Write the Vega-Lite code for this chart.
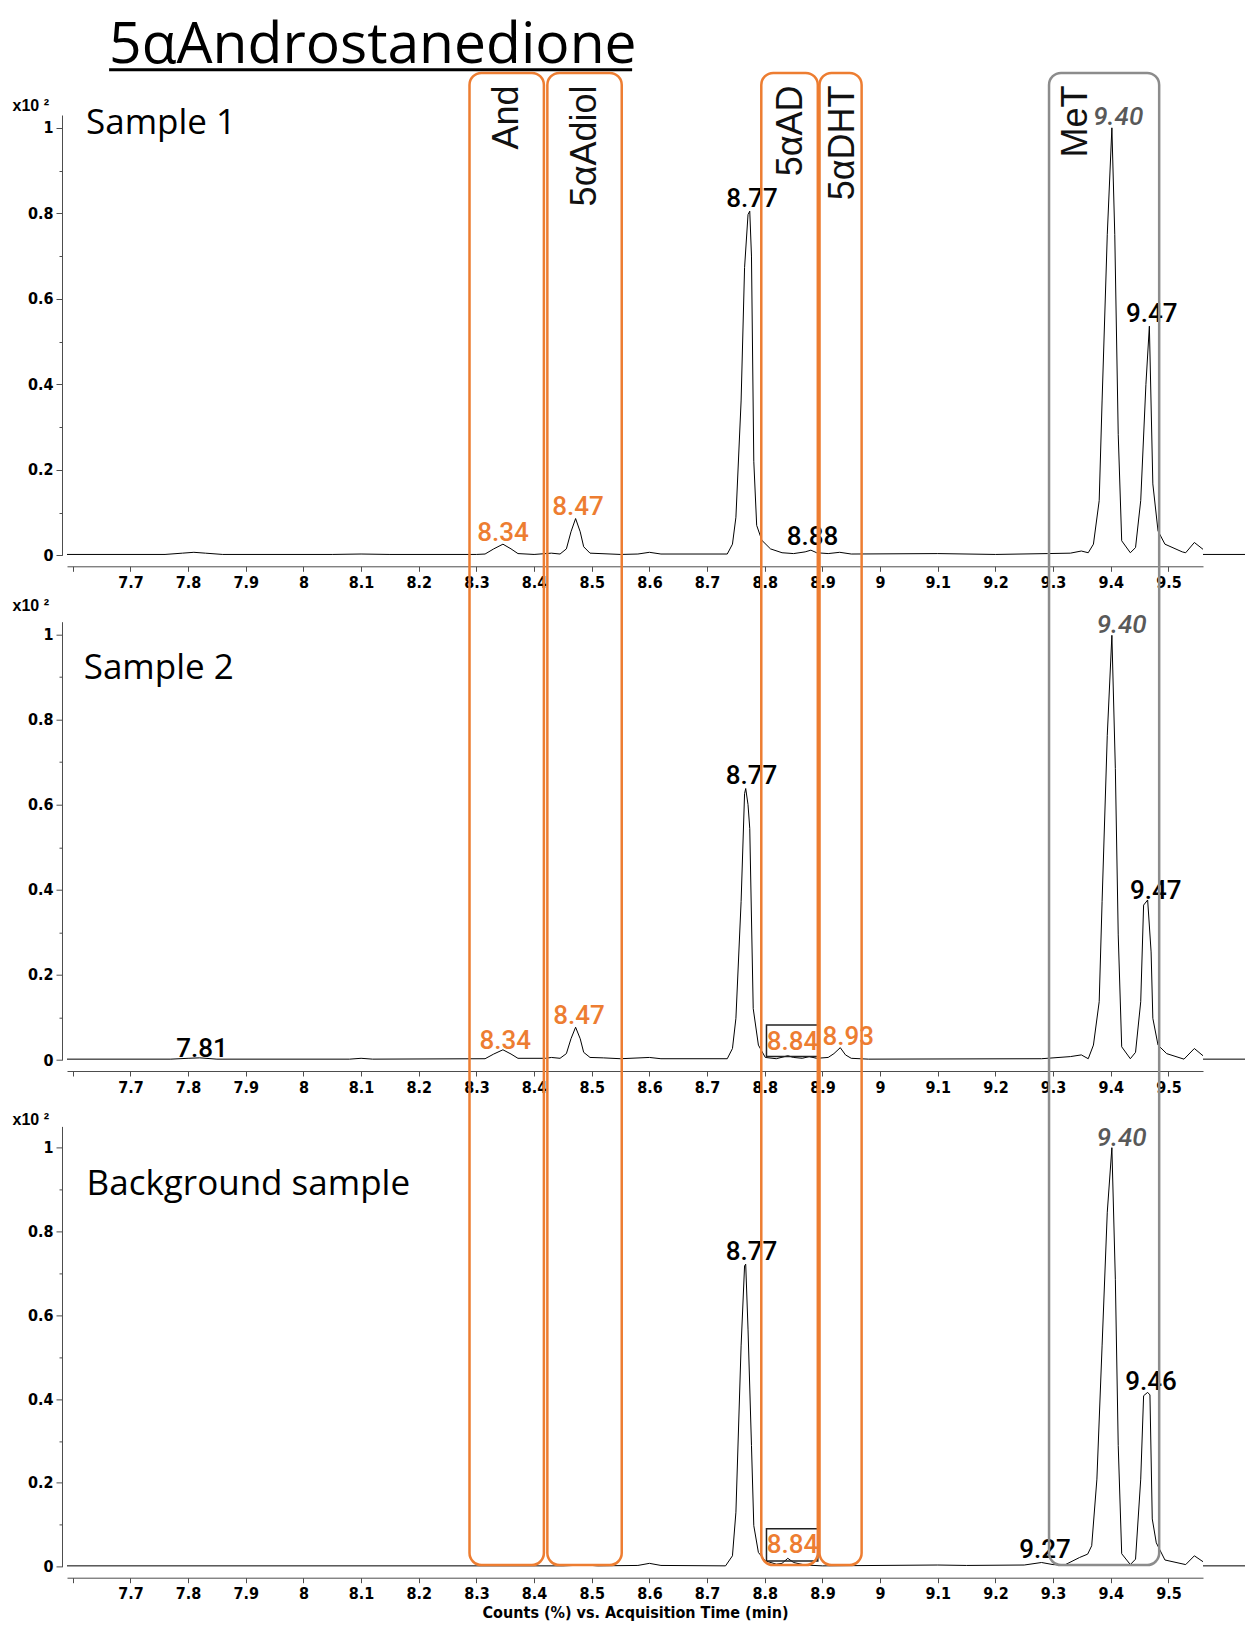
{
 "$schema": "https://vega.github.io/schema/vega-lite/v6.json",
 "padding": {"left": 12, "top": 17, "right": 0, "bottom": 0},
 "bounds": "flush",
 "spacing": 65.7,
 "config": {
  "view": {"stroke": null},
  "axis": {"grid": false, "labelFont": "Liberation Sans Narrow, Arial Narrow, DejaVu Sans Condensed, Liberation Sans", "labelFontWeight": "bold", "labelFontSize": 16, "labelColor": "#000", "domainColor": "#4d4d4d", "tickColor": "#4d4d4d", "titleFont": "Liberation Sans Narrow, Arial Narrow, DejaVu Sans Condensed, Liberation Sans", "titleFontWeight": "bold", "titleFontSize": 16, "titleColor": "#000"},
  "text": {"font": "Liberation Sans"}
 },
 "datasets": {
  "trace": [
   {"p":1,"t":7.59,"v":0.002},{"p":1,"t":7.76,"v":0.002},{"p":1,"t":7.79,"v":0.005},{"p":1,"t":7.81,"v":0.007},{"p":1,"t":7.83,"v":0.005},{"p":1,"t":7.86,"v":0.002},{"p":1,"t":8.05,"v":0.002},{"p":1,"t":8.1,"v":0.003},{"p":1,"t":8.15,"v":0.002},{"p":1,"t":8.3,"v":0.002},{"p":1,"t":8.315,"v":0.003},{"p":1,"t":8.33,"v":0.015},{"p":1,"t":8.346,"v":0.026},{"p":1,"t":8.36,"v":0.015},{"p":1,"t":8.372,"v":0.004},{"p":1,"t":8.4,"v":0.002},{"p":1,"t":8.43,"v":0.005},{"p":1,"t":8.445,"v":0.003},{"p":1,"t":8.456,"v":0.015},{"p":1,"t":8.464,"v":0.055},{"p":1,"t":8.472,"v":0.086},{"p":1,"t":8.48,"v":0.055},{"p":1,"t":8.486,"v":0.02},{"p":1,"t":8.497,"v":0.005},{"p":1,"t":8.55,"v":0.002},{"p":1,"t":8.58,"v":0.003},{"p":1,"t":8.6,"v":0.007},{"p":1,"t":8.62,"v":0.003},{"p":1,"t":8.735,"v":0.003},{"p":1,"t":8.744,"v":0.026},{"p":1,"t":8.75,"v":0.089},{"p":1,"t":8.759,"v":0.361},{"p":1,"t":8.765,"v":0.673},{"p":1,"t":8.771,"v":0.797},{"p":1,"t":8.774,"v":0.805},{"p":1,"t":8.777,"v":0.7},{"p":1,"t":8.781,"v":0.22},{"p":1,"t":8.786,"v":0.07},{"p":1,"t":8.795,"v":0.035},{"p":1,"t":8.81,"v":0.015},{"p":1,"t":8.83,"v":0.006},{"p":1,"t":8.85,"v":0.004},{"p":1,"t":8.87,"v":0.008},{"p":1,"t":8.88,"v":0.012},{"p":1,"t":8.89,"v":0.006},{"p":1,"t":8.91,"v":0.004},{"p":1,"t":8.93,"v":0.007},{"p":1,"t":8.95,"v":0.003},{"p":1,"t":9.1,"v":0.004},{"p":1,"t":9.2,"v":0.002},{"p":1,"t":9.29,"v":0.004},{"p":1,"t":9.33,"v":0.005},{"p":1,"t":9.349,"v":0.01},{"p":1,"t":9.361,"v":0.006},{"p":1,"t":9.37,"v":0.026},{"p":1,"t":9.38,"v":0.128},{"p":1,"t":9.385,"v":0.361},{"p":1,"t":9.394,"v":0.75},{"p":1,"t":9.402,"v":1.0},{"p":1,"t":9.407,"v":0.75},{"p":1,"t":9.413,"v":0.283},{"p":1,"t":9.419,"v":0.034},{"p":1,"t":9.434,"v":0.006},{"p":1,"t":9.443,"v":0.018},{"p":1,"t":9.452,"v":0.128},{"p":1,"t":9.461,"v":0.4},{"p":1,"t":9.467,"v":0.536},{"p":1,"t":9.473,"v":0.167},{"p":1,"t":9.482,"v":0.057},{"p":1,"t":9.494,"v":0.026},{"p":1,"t":9.524,"v":0.008},{"p":1,"t":9.53,"v":0.006},{"p":1,"t":9.545,"v":0.03},{"p":1,"t":9.56,"v":0.014},
   {"p":2,"t":7.59,"v":0.002},{"p":2,"t":7.77,"v":0.002},{"p":2,"t":7.8,"v":0.004},{"p":2,"t":7.82,"v":0.005},{"p":2,"t":7.85,"v":0.002},{"p":2,"t":8.08,"v":0.002},{"p":2,"t":8.1,"v":0.004},{"p":2,"t":8.12,"v":0.002},{"p":2,"t":8.315,"v":0.003},{"p":2,"t":8.33,"v":0.014},{"p":2,"t":8.346,"v":0.024},{"p":2,"t":8.36,"v":0.014},{"p":2,"t":8.372,"v":0.004},{"p":2,"t":8.42,"v":0.004},{"p":2,"t":8.43,"v":0.006},{"p":2,"t":8.445,"v":0.004},{"p":2,"t":8.456,"v":0.015},{"p":2,"t":8.464,"v":0.05},{"p":2,"t":8.472,"v":0.077},{"p":2,"t":8.48,"v":0.05},{"p":2,"t":8.486,"v":0.018},{"p":2,"t":8.497,"v":0.006},{"p":2,"t":8.52,"v":0.005},{"p":2,"t":8.55,"v":0.003},{"p":2,"t":8.6,"v":0.006},{"p":2,"t":8.62,"v":0.003},{"p":2,"t":8.735,"v":0.003},{"p":2,"t":8.744,"v":0.027},{"p":2,"t":8.75,"v":0.098},{"p":2,"t":8.759,"v":0.372},{"p":2,"t":8.765,"v":0.626},{"p":2,"t":8.767,"v":0.638},{"p":2,"t":8.771,"v":0.6},{"p":2,"t":8.774,"v":0.544},{"p":2,"t":8.78,"v":0.121},{"p":2,"t":8.789,"v":0.035},{"p":2,"t":8.801,"v":0.006},{"p":2,"t":8.82,"v":0.003},{"p":2,"t":8.84,"v":0.01},{"p":2,"t":8.85,"v":0.006},{"p":2,"t":8.865,"v":0.004},{"p":2,"t":8.877,"v":0.008},{"p":2,"t":8.89,"v":0.004},{"p":2,"t":8.91,"v":0.006},{"p":2,"t":8.92,"v":0.015},{"p":2,"t":8.931,"v":0.029},{"p":2,"t":8.94,"v":0.012},{"p":2,"t":8.95,"v":0.004},{"p":2,"t":8.98,"v":0.002},{"p":2,"t":9.28,"v":0.003},{"p":2,"t":9.33,"v":0.008},{"p":2,"t":9.349,"v":0.012},{"p":2,"t":9.361,"v":0.003},{"p":2,"t":9.37,"v":0.035},{"p":2,"t":9.38,"v":0.137},{"p":2,"t":9.385,"v":0.372},{"p":2,"t":9.394,"v":0.763},{"p":2,"t":9.402,"v":0.998},{"p":2,"t":9.408,"v":0.685},{"p":2,"t":9.413,"v":0.294},{"p":2,"t":9.419,"v":0.031},{"p":2,"t":9.434,"v":0.003},{"p":2,"t":9.443,"v":0.018},{"p":2,"t":9.452,"v":0.137},{"p":2,"t":9.457,"v":0.364},{"p":2,"t":9.464,"v":0.376},{"p":2,"t":9.47,"v":0.254},{"p":2,"t":9.473,"v":0.098},{"p":2,"t":9.482,"v":0.035},{"p":2,"t":9.497,"v":0.015},{"p":2,"t":9.527,"v":0.002},{"p":2,"t":9.545,"v":0.027},{"p":2,"t":9.56,"v":0.01},
   {"p":3,"t":7.59,"v":0.002},{"p":3,"t":8.45,"v":0.002},{"p":3,"t":8.49,"v":0.004},{"p":3,"t":8.51,"v":0.002},{"p":3,"t":8.58,"v":0.003},{"p":3,"t":8.6,"v":0.008},{"p":3,"t":8.62,"v":0.003},{"p":3,"t":8.732,"v":0.002},{"p":3,"t":8.744,"v":0.026},{"p":3,"t":8.75,"v":0.13},{"p":3,"t":8.759,"v":0.527},{"p":3,"t":8.765,"v":0.718},{"p":3,"t":8.767,"v":0.722},{"p":3,"t":8.771,"v":0.567},{"p":3,"t":8.777,"v":0.289},{"p":3,"t":8.781,"v":0.098},{"p":3,"t":8.789,"v":0.034},{"p":3,"t":8.801,"v":0.014},{"p":3,"t":8.82,"v":0.006},{"p":3,"t":8.83,"v":0.008},{"p":3,"t":8.84,"v":0.02},{"p":3,"t":8.85,"v":0.01},{"p":3,"t":8.87,"v":0.004},{"p":3,"t":8.9,"v":0.002},{"p":3,"t":9.1,"v":0.004},{"p":3,"t":9.15,"v":0.003},{"p":3,"t":9.25,"v":0.004},{"p":3,"t":9.28,"v":0.01},{"p":3,"t":9.3,"v":0.005},{"p":3,"t":9.32,"v":0.004},{"p":3,"t":9.346,"v":0.022},{"p":3,"t":9.36,"v":0.03},{"p":3,"t":9.367,"v":0.05},{"p":3,"t":9.376,"v":0.209},{"p":3,"t":9.385,"v":0.527},{"p":3,"t":9.394,"v":0.846},{"p":3,"t":9.402,"v":1.0},{"p":3,"t":9.408,"v":0.686},{"p":3,"t":9.413,"v":0.289},{"p":3,"t":9.419,"v":0.031},{"p":3,"t":9.434,"v":0.005},{"p":3,"t":9.443,"v":0.018},{"p":3,"t":9.452,"v":0.209},{"p":3,"t":9.457,"v":0.408},{"p":3,"t":9.464,"v":0.416},{"p":3,"t":9.468,"v":0.41},{"p":3,"t":9.472,"v":0.114},{"p":3,"t":9.479,"v":0.057},{"p":3,"t":9.494,"v":0.016},{"p":3,"t":9.53,"v":0.005},{"p":3,"t":9.545,"v":0.026},{"p":3,"t":9.56,"v":0.012}
  ],
  "labels": [
   {"p":1,"t":8.346,"v":0.033,"label":"8.34","kind":"target"},
   {"p":1,"t":8.476,"v":0.095,"label":"8.47","kind":"target"},
   {"p":1,"t":8.778,"v":0.814,"label":"8.77","kind":"peak"},
   {"p":1,"t":8.883,"v":0.025,"label":"8.88","kind":"peak"},
   {"p":1,"t":9.413,"v":1.0075,"label":"9.40","kind":"istd"},
   {"p":1,"t":9.471,"v":0.546,"label":"9.47","kind":"peak"},
   {"p":2,"t":7.824,"v":0.007,"label":"7.81","kind":"peak"},
   {"p":2,"t":8.35,"v":0.027,"label":"8.34","kind":"target"},
   {"p":2,"t":8.478,"v":0.085,"label":"8.47","kind":"target"},
   {"p":2,"t":8.777,"v":0.649,"label":"8.77","kind":"peak"},
   {"p":2,"t":8.848,"v":0.024,"label":"8.84","kind":"target"},
   {"p":2,"t":8.945,"v":0.035,"label":"8.93","kind":"target"},
   {"p":2,"t":9.419,"v":1.004,"label":"9.40","kind":"istd"},
   {"p":2,"t":9.478,"v":0.379,"label":"9.47","kind":"peak"},
   {"p":3,"t":8.777,"v":0.733,"label":"8.77","kind":"peak"},
   {"p":3,"t":8.848,"v":0.032,"label":"8.84","kind":"target"},
   {"p":3,"t":9.286,"v":0.0215,"label":"9.27","kind":"peak"},
   {"p":3,"t":9.419,"v":1.004,"label":"9.40","kind":"istd"},
   {"p":3,"t":9.47,"v":0.422,"label":"9.46","kind":"peak"}
  ],
  "names": [
   {"p":1,"t":7.623,"v":0.9855,"label":"Sample 1"},
   {"p":2,"t":7.619,"v":0.895,"label":"Sample 2"},
   {"p":3,"t":7.624,"v":0.888,"label":"Background sample"}
  ],
  "peakboxes": [
   {"p":2,"t0":8.803,"t1":8.892,"v0":0.008,"v1":0.082},
   {"p":3,"t0":8.803,"t1":8.892,"v0":0.0136,"v1":0.0907}
  ],
  "windows": [
   {"name":"And","t0":8.288,"t1":8.417,"kind":"target"},
   {"name":"5αAdiol","t0":8.423,"t1":8.552,"kind":"target"},
   {"name":"5αAD","t0":8.794,"t1":8.892,"kind":"target"},
   {"name":"5αDHT","t0":8.895,"t1":8.968,"kind":"target"},
   {"name":"MeT","t0":9.293,"t1":9.484,"kind":"ref"}
  ],
  "windowlabels": [
   {"name":"And","t":8.353},
   {"name":"5αAdiol","t":8.488},
   {"name":"5αAD","t":8.845},
   {"name":"5αDHT","t":8.935},
   {"name":"MeT","t":9.34}
  ]
 },
 "vconcat": [
  {
   "width": 1136, "height": 440.3,
   "layer": [
    {
     "data": {"name": "trace"},
     "transform": [{"filter": "datum.p == 1"}],
     "mark": {"type": "line", "color": "#000", "strokeWidth": 1},
     "encoding": {
      "x": {"field": "t", "type": "quantitative", "scale": {"domain": [7.59, 9.56], "nice": false, "zero": false},
            "axis": {"values": [7.6,7.7,7.8,7.9,8,8.1,8.2,8.3,8.4,8.5,8.6,8.7,8.8,8.9,9,9.1,9.2,9.3,9.4,9.5], "labelExpr": "datum.value < 7.65 ? '' : format(datum.value, '.1~f')", "offset": 11, "tickSize": 5, "labelPadding": 3, "title": null, "labelFlush": false, "labelOverlap": false}},
      "y": {"field": "v", "type": "quantitative", "scale": {"domain": [0, 1.03], "nice": false, "zero": false},
            "axis": {"values": [0,0.1,0.2,0.3,0.4,0.5,0.6,0.7,0.8,0.9,1], "labelExpr": "abs(datum.value*10 % 2) > 0.5 ? '' : format(datum.value, '.1~f')", "offset": 5, "tickSize": {"condition": {"test": "abs(datum.value*10 % 2) > 0.5", "value": 3}, "value": 6}, "labelPadding": 3, "labelOverlap": false, "title": "x10 ²", "titleFont": "Liberation Sans", "titleFontSize": 16, "titleAngle": 0, "titleAlign": "left", "titleBaseline": "alphabetic", "titleX": -50, "titleY": -5}}
     }
    },
    {
     "data": {"name": "labels"},
     "transform": [{"filter": "datum.p == 1 && datum.kind != 'istd'"}],
     "mark": {"type": "text", "font": "Roboto", "fontWeight": 500, "fontSize": 26, "align": "center", "baseline": "alphabetic"},
     "encoding": {
      "x": {"field": "t", "type": "quantitative"},
      "y": {"field": "v", "type": "quantitative"},
      "text": {"field": "label"},
      "color": {"field": "kind", "type": "nominal", "scale": {"domain": ["target", "peak"], "range": ["#ED7D31", "#000000"]}, "legend": null}
     }
    },
    {
     "data": {"name": "labels"},
     "transform": [{"filter": "datum.p == 1 && datum.kind == 'istd'"}],
     "mark": {"type": "text", "font": "Roboto", "fontWeight": 500, "fontSize": 26, "fontStyle": "italic", "color": "#595959", "align": "center", "baseline": "alphabetic"},
     "encoding": {
      "x": {"field": "t", "type": "quantitative"},
      "y": {"field": "v", "type": "quantitative"},
      "text": {"field": "label"}
     }
    },
    {
     "data": {"name": "names"},
     "transform": [{"filter": "datum.p == 1"}],
     "mark": {"type": "text", "font": "Open Sans", "fontSize": 35, "align": "left", "baseline": "alphabetic", "color": "#000"},
     "encoding": {
      "x": {"field": "t", "type": "quantitative"},
      "y": {"field": "v", "type": "quantitative"},
      "text": {"field": "label"}
     }
    },
    {
     "data": {"values": [{"label": "5αAndrostanedione"}]},
     "mark": {"type": "text", "font": "Open Sans", "fontSize": 57, "align": "left", "baseline": "alphabetic", "color": "#000"},
     "encoding": {
      "x": {"datum": 7.663, "type": "quantitative"},
      "y": {"datum": 1.151, "type": "quantitative"},
      "text": {"field": "label"}
     }
    },
    {
     "data": {"values": [{}]},
     "mark": {"type": "rule", "color": "#000", "strokeWidth": 3},
     "encoding": {
      "x": {"datum": 7.663, "type": "quantitative"},
      "x2": {"datum": 8.57},
      "y": {"datum": 1.136, "type": "quantitative"}
     }
    },
    {
     "data": {"values": [{}]},
     "mark": {"type": "rule", "color": "#000", "strokeWidth": 1},
     "encoding": {
      "x": {"datum": 9.56, "type": "quantitative"},
      "x2": {"datum": 9.633},
      "y": {"datum": 0.002, "type": "quantitative"}
     }
    }
   ]
  },
  {
   "width": 1136, "height": 438.3,
   "layer": [
    {
     "data": {"name": "trace"},
     "transform": [{"filter": "datum.p == 2"}],
     "mark": {"type": "line", "color": "#000", "strokeWidth": 1},
     "encoding": {
      "x": {"field": "t", "type": "quantitative", "scale": {"domain": [7.59, 9.56], "nice": false, "zero": false},
            "axis": {"values": [7.6,7.7,7.8,7.9,8,8.1,8.2,8.3,8.4,8.5,8.6,8.7,8.8,8.9,9,9.1,9.2,9.3,9.4,9.5], "labelExpr": "datum.value < 7.65 ? '' : format(datum.value, '.1~f')", "offset": 11, "tickSize": 5, "labelPadding": 3, "title": null, "labelFlush": false, "labelOverlap": false}},
      "y": {"field": "v", "type": "quantitative", "scale": {"domain": [0, 1.03], "nice": false, "zero": false},
            "axis": {"values": [0,0.1,0.2,0.3,0.4,0.5,0.6,0.7,0.8,0.9,1], "labelExpr": "abs(datum.value*10 % 2) > 0.5 ? '' : format(datum.value, '.1~f')", "offset": 5, "tickSize": {"condition": {"test": "abs(datum.value*10 % 2) > 0.5", "value": 3}, "value": 6}, "labelPadding": 3, "labelOverlap": false, "title": "x10 ²", "titleFont": "Liberation Sans", "titleFontSize": 16, "titleAngle": 0, "titleAlign": "left", "titleBaseline": "alphabetic", "titleX": -50, "titleY": -11}}
     }
    },
    {
     "data": {"name": "labels"},
     "transform": [{"filter": "datum.p == 2 && datum.kind != 'istd'"}],
     "mark": {"type": "text", "font": "Roboto", "fontWeight": 500, "fontSize": 26, "align": "center", "baseline": "alphabetic"},
     "encoding": {
      "x": {"field": "t", "type": "quantitative"},
      "y": {"field": "v", "type": "quantitative"},
      "text": {"field": "label"},
      "color": {"field": "kind", "type": "nominal", "scale": {"domain": ["target", "peak"], "range": ["#ED7D31", "#000000"]}, "legend": null}
     }
    },
    {
     "data": {"name": "labels"},
     "transform": [{"filter": "datum.p == 2 && datum.kind == 'istd'"}],
     "mark": {"type": "text", "font": "Roboto", "fontWeight": 500, "fontSize": 26, "fontStyle": "italic", "color": "#595959", "align": "center", "baseline": "alphabetic"},
     "encoding": {
      "x": {"field": "t", "type": "quantitative"},
      "y": {"field": "v", "type": "quantitative"},
      "text": {"field": "label"}
     }
    },
    {
     "data": {"name": "names"},
     "transform": [{"filter": "datum.p == 2"}],
     "mark": {"type": "text", "font": "Open Sans", "fontSize": 35, "align": "left", "baseline": "alphabetic", "color": "#000"},
     "encoding": {
      "x": {"field": "t", "type": "quantitative"},
      "y": {"field": "v", "type": "quantitative"},
      "text": {"field": "label"}
     }
    },
    {
     "data": {"name": "peakboxes"},
     "transform": [{"filter": "datum.p == 2"}],
     "mark": {"type": "rect", "filled": false, "stroke": "#222", "strokeWidth": 1.5},
     "encoding": {
      "x": {"field": "t0", "type": "quantitative"},
      "x2": {"field": "t1"},
      "y": {"field": "v0", "type": "quantitative"},
      "y2": {"field": "v1"}
     }
    },
    {
     "data": {"values": [{}]},
     "mark": {"type": "rule", "color": "#000", "strokeWidth": 1},
     "encoding": {
      "x": {"datum": 9.56, "type": "quantitative"},
      "x2": {"datum": 9.633},
      "y": {"datum": 0.002, "type": "quantitative"}
     }
    }
   ]
  },
  {
   "width": 1136, "height": 440.3,
   "layer": [
    {
     "data": {"name": "trace"},
     "transform": [{"filter": "datum.p == 3"}],
     "mark": {"type": "line", "color": "#000", "strokeWidth": 1},
     "encoding": {
      "x": {"field": "t", "type": "quantitative", "scale": {"domain": [7.59, 9.56], "nice": false, "zero": false},
            "axis": {"values": [7.6,7.7,7.8,7.9,8,8.1,8.2,8.3,8.4,8.5,8.6,8.7,8.8,8.9,9,9.1,9.2,9.3,9.4,9.5], "labelExpr": "datum.value < 7.65 ? '' : format(datum.value, '.1~f')", "offset": 11, "tickSize": 5, "labelPadding": 3, "title": "Counts (%) vs. Acquisition Time (min)", "titlePadding": 3, "labelFlush": false, "labelOverlap": false}},
      "y": {"field": "v", "type": "quantitative", "scale": {"domain": [0, 1.0508], "nice": false, "zero": false},
            "axis": {"values": [0,0.1,0.2,0.3,0.4,0.5,0.6,0.7,0.8,0.9,1], "labelExpr": "abs(datum.value*10 % 2) > 0.5 ? '' : format(datum.value, '.1~f')", "offset": 5, "tickSize": {"condition": {"test": "abs(datum.value*10 % 2) > 0.5", "value": 3}, "value": 6}, "labelPadding": 3, "labelOverlap": false, "title": "x10 ²", "titleFont": "Liberation Sans", "titleFontSize": 16, "titleAngle": 0, "titleAlign": "left", "titleBaseline": "alphabetic", "titleX": -50, "titleY": -2}}
     }
    },
    {
     "data": {"name": "labels"},
     "transform": [{"filter": "datum.p == 3 && datum.kind != 'istd'"}],
     "mark": {"type": "text", "font": "Roboto", "fontWeight": 500, "fontSize": 26, "align": "center", "baseline": "alphabetic"},
     "encoding": {
      "x": {"field": "t", "type": "quantitative"},
      "y": {"field": "v", "type": "quantitative"},
      "text": {"field": "label"},
      "color": {"field": "kind", "type": "nominal", "scale": {"domain": ["target", "peak"], "range": ["#ED7D31", "#000000"]}, "legend": null}
     }
    },
    {
     "data": {"name": "labels"},
     "transform": [{"filter": "datum.p == 3 && datum.kind == 'istd'"}],
     "mark": {"type": "text", "font": "Roboto", "fontWeight": 500, "fontSize": 26, "fontStyle": "italic", "color": "#595959", "align": "center", "baseline": "alphabetic"},
     "encoding": {
      "x": {"field": "t", "type": "quantitative"},
      "y": {"field": "v", "type": "quantitative"},
      "text": {"field": "label"}
     }
    },
    {
     "data": {"name": "names"},
     "transform": [{"filter": "datum.p == 3"}],
     "mark": {"type": "text", "font": "Open Sans", "fontSize": 35, "align": "left", "baseline": "alphabetic", "color": "#000"},
     "encoding": {
      "x": {"field": "t", "type": "quantitative"},
      "y": {"field": "v", "type": "quantitative"},
      "text": {"field": "label"}
     }
    },
    {
     "data": {"name": "peakboxes"},
     "transform": [{"filter": "datum.p == 3"}],
     "mark": {"type": "rect", "filled": false, "stroke": "#222", "strokeWidth": 1.5},
     "encoding": {
      "x": {"field": "t0", "type": "quantitative"},
      "x2": {"field": "t1"},
      "y": {"field": "v0", "type": "quantitative"},
      "y2": {"field": "v1"}
     }
    },
    {
     "data": {"values": [{}]},
     "mark": {"type": "rule", "color": "#000", "strokeWidth": 1},
     "encoding": {
      "x": {"datum": 9.56, "type": "quantitative"},
      "x2": {"datum": 9.633},
      "y": {"datum": 0.002, "type": "quantitative"}
     }
    },
    {
     "data": {"name": "windows"},
     "mark": {"type": "rect", "filled": false, "strokeWidth": 2.5, "cornerRadius": 12},
     "encoding": {
      "x": {"field": "t0", "type": "quantitative"},
      "x2": {"field": "t1"},
      "y": {"datum": 3.565, "type": "quantitative"},
      "y2": {"datum": 0.004},
      "stroke": {"field": "kind", "type": "nominal", "scale": {"domain": ["target", "ref"], "range": ["#ED7D31", "#8C8C8C"]}, "legend": null}
     }
    },
    {
     "data": {"name": "windowlabels"},
     "mark": {"type": "text", "fontSize": 36, "angle": 270, "align": "right", "baseline": "middle", "color": "#111"},
     "encoding": {
      "x": {"field": "t", "type": "quantitative"},
      "y": {"datum": 3.535, "type": "quantitative"},
      "text": {"field": "name"}
     }
    }
   ]
  }
 ]
}
